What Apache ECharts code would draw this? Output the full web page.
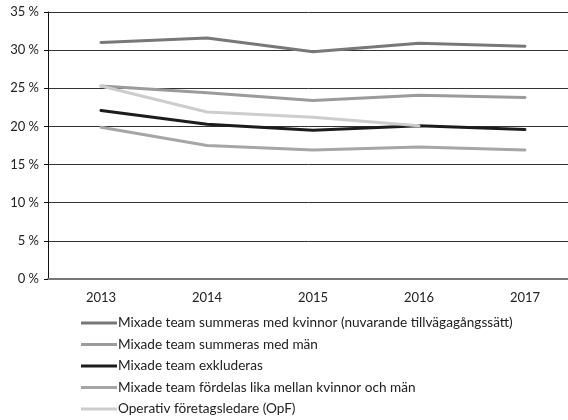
<!DOCTYPE html>
<html>
<head>
<meta charset="utf-8">
<script src="https://cdn.jsdelivr.net/npm/echarts@6/dist/echarts.min.js"></script>
<style>
  html, body { margin: 0; padding: 0; background: #fff; }
  #chart { width: 568px; height: 420px; }
</style>
</head>
<body>
<div id="chart"></div>
<script>
var years = ['2013', '2014', '2015', '2016', '2017'];

var seriesNames = [
    'Mixade team summeras med kvinnor (nuvarande tillvägagångssätt)',
    'Mixade team summeras med män',
    'Mixade team exkluderas',
    'Mixade team fördelas lika mellan kvinnor och män',
    'Operativ företagsledare (OpF)'
];

var summeradKvinnor = [31.0, 31.6, 29.8, 30.9, 30.5];
var summeradMan = [25.3, 24.4, 23.4, 24.1, 23.8];
var exkluderas = [22.1, 20.3, 19.5, 20.1, 19.6];
var fordelasLika = [19.9, 17.5, 16.9, 17.3, 16.9];
var opf = [25.3, 21.9, 21.2, 20.1, null];

var colors = ['#787878', '#9b9b9b', '#1c1c1c', '#a6a6a6', '#cdcdcd'];
var allData = [summeradKvinnor, summeradMan, exkluderas, fordelasLika, opf];

var myChart = echarts.init(document.getElementById('chart'));

var series = allData.map(function(d, i) {
    return {
        name: seriesNames[i],
        type: 'line',
        data: d,
        symbol: 'none',
        smooth: false,
        lineStyle: { width: 3, color: colors[i], cap: 'round' },
        itemStyle: { color: colors[i] }
    };
});

var option = {
    animation: false,
    textStyle: { fontFamily: 'Lato, "Open Sans", sans-serif' },
    grid: { left: 48, width: 530, top: 12, height: 267, outerBoundsMode: 'none' },
    legend: {
        orient: 'vertical',
        left: 81,
        top: 315,
        padding: 0,
        itemWidth: 36,
        itemHeight: 3,
        itemGap: 5.5,
        icon: 'rect',
        data: seriesNames,
        textStyle: { fontSize: 13.6, lineHeight: 16, color: '#222', padding: [0, 0, 0, -4] }
    },
    xAxis: {
        type: 'category',
        data: years,
        boundaryGap: true,
        axisLine: { lineStyle: { color: '#777', width: 2 } },
        axisTick: { show: false },
        axisLabel: { color: '#222', fontSize: 13, margin: 12 }
    },
    yAxis: {
        type: 'value',
        min: 0,
        max: 35,
        interval: 5,
        axisLine: { show: true, lineStyle: { color: '#111', width: 1 } },
        axisTick: { show: true, length: 4, lineStyle: { color: '#111' } },
        axisLabel: {
            color: '#222',
            fontSize: 13,
            margin: 9,
            formatter: function(v) { return v + ' %'; }
        },
        splitLine: { lineStyle: { color: '#333', width: 1 } }
    },
    series: series
};

myChart.setOption(option);
</script>
</body>
</html>
